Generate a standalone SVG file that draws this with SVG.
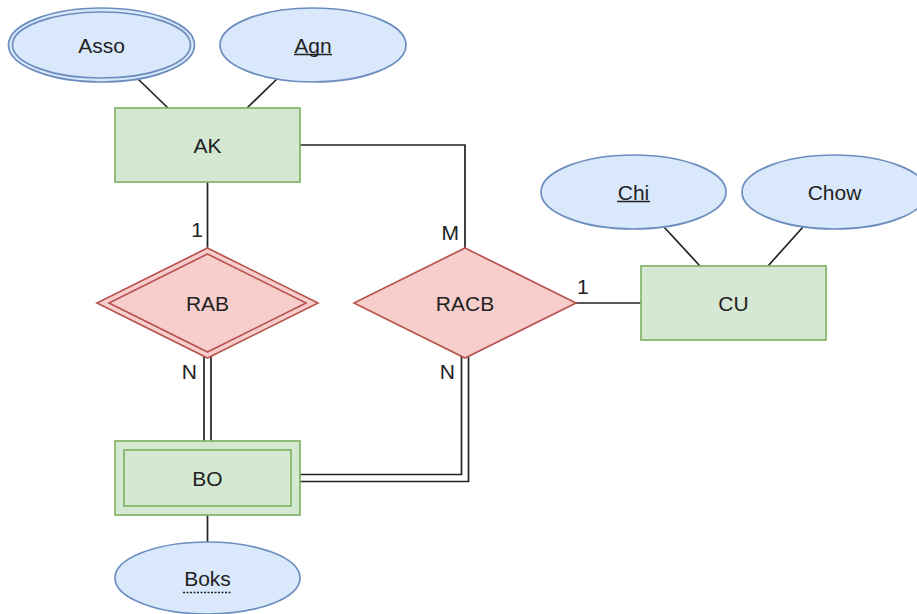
<svg xmlns="http://www.w3.org/2000/svg" width="917" height="614" viewBox="0 0 917 614">
<style>
text{font-family:"Liberation Sans",Arial,sans-serif;font-size:21px;fill:#222;}
.c{text-anchor:middle;}
.attr{fill:#dae8fc;stroke:#6c8ebf;stroke-width:1.7;}
.ent{fill:#d5e8d4;stroke:#82b366;stroke-width:1.7;}
.rel{fill:#f8cecc;stroke:#b85450;stroke-width:1.7;}
.ln{fill:none;stroke:#222;stroke-width:1.7;}
.ul{stroke:#222;stroke-width:1.5;}
</style>
<rect width="917" height="614" fill="#fff"/>
<g id="connectors">
  <line class="ln" x1="138" y1="79" x2="168" y2="108"/>
  <line class="ln" x1="277" y1="79" x2="247" y2="108"/>
  <line class="ln" x1="207.5" y1="182" x2="207.5" y2="248"/>
  <polyline class="ln" points="300,145 465,145 465,248"/>
  <line class="ln" x1="576" y1="303" x2="641" y2="303"/>
  <line class="ln" x1="664" y1="227" x2="700" y2="266"/>
  <line class="ln" x1="803" y1="227" x2="768" y2="266"/>
  <line class="ln" x1="204" y1="356" x2="204" y2="441"/>
  <line class="ln" x1="211" y1="356" x2="211" y2="441"/>
  <polyline class="ln" points="461.5,356 461.5,474.5 300,474.5"/>
  <polyline class="ln" points="468.5,356 468.5,481.5 300,481.5"/>
  <line class="ln" x1="207.5" y1="515" x2="207.5" y2="542"/>
  <text x="203" y="237" text-anchor="end">1</text>
  <text x="459" y="240" text-anchor="end">M</text>
  <text x="577" y="294">1</text>
  <text x="197" y="379" text-anchor="end">N</text>
  <text x="455" y="379" text-anchor="end">N</text>
</g>
<g id="Asso">
  <ellipse class="attr" cx="101.5" cy="45" rx="93" ry="37"/>
  <ellipse class="attr" cx="101.5" cy="45" rx="89" ry="33"/>
  <text class="c" x="101.5" y="52.5">Asso</text>
</g>
<g id="Agn">
  <ellipse class="attr" cx="313" cy="45" rx="93" ry="37"/>
  <text class="c" x="313" y="52.5">Agn</text>
  <line class="ul" x1="294" y1="54.5" x2="332" y2="54.5"/>
</g>
<g id="AK">
  <rect class="ent" x="115" y="108" width="185" height="74"/>
  <text class="c" x="207.5" y="152.5">AK</text>
</g>
<g id="RAB">
  <polygon class="rel" points="207.5,248 318,303 207.5,358 97,303"/>
  <polygon class="rel" points="207.5,254 306,303 207.5,352 109,303"/>
  <text class="c" x="207.5" y="310.5">RAB</text>
</g>
<g id="RACB">
  <polygon class="rel" points="465,248 576,303 465,358 354,303"/>
  <text class="c" x="465" y="310.5">RACB</text>
</g>
<g id="CU">
  <rect class="ent" x="641" y="266" width="185" height="74"/>
  <text class="c" x="733.5" y="310.5">CU</text>
</g>
<g id="Chi">
  <ellipse class="attr" cx="633.5" cy="192" rx="92.5" ry="37"/>
  <text class="c" x="633.5" y="199.5">Chi</text>
  <line class="ul" x1="617" y1="201.5" x2="650" y2="201.5"/>
</g>
<g id="Chow">
  <ellipse class="attr" cx="834.5" cy="192" rx="92.5" ry="37"/>
  <text class="c" x="834.5" y="199.5">Chow</text>
</g>
<g id="BO">
  <rect class="ent" x="115" y="441" width="185" height="74"/>
  <rect class="ent" x="124" y="450" width="167" height="56"/>
  <text class="c" x="207.5" y="485.5">BO</text>
</g>
<g id="Boks">
  <ellipse class="attr" cx="207.5" cy="578" rx="92.5" ry="36"/>
  <text class="c" x="207.5" y="585.5">Boks</text>
  <line class="ul" x1="183" y1="592.5" x2="231" y2="592.5" stroke-dasharray="2 1.5"/>
</g>
</svg>
